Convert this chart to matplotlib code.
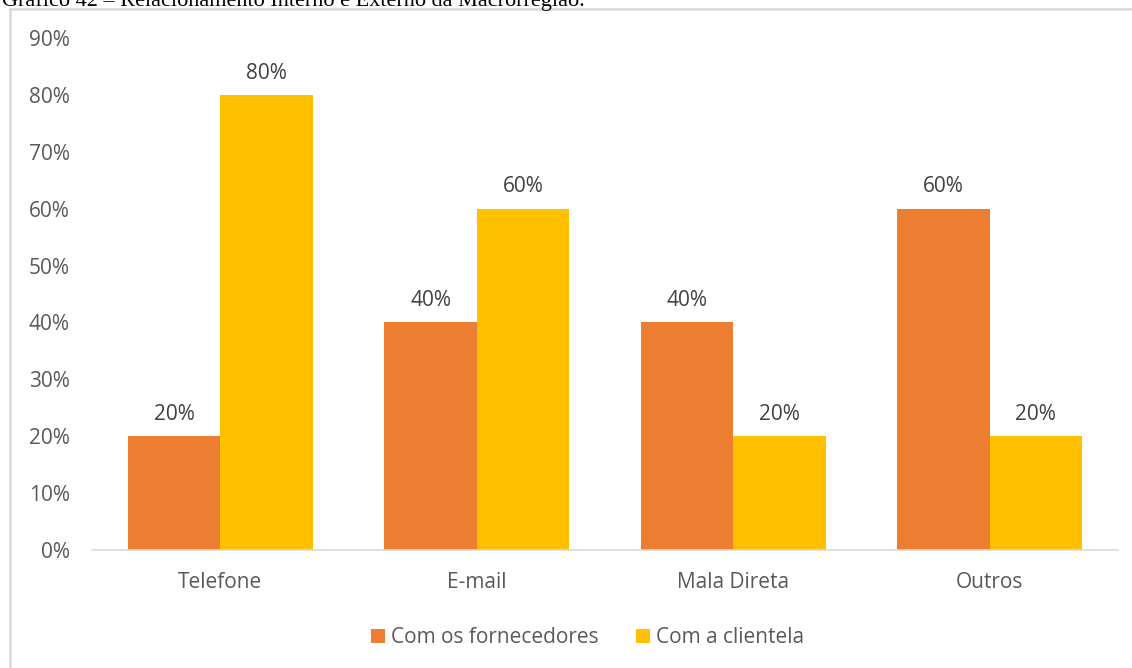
import numpy as np
import matplotlib.pyplot as plt
from matplotlib.lines import Line2D

categorias = ['Telefone', 'E-mail', 'Mala Direta', 'Outros']
fornecedores = [0.20, 0.40, 0.40, 0.60]
clientela = [0.80, 0.60, 0.20, 0.20]
series_nomes = ['Com os fornecedores', 'Com a clientela']
yticks = [0, 0.1, 0.2, 0.3, 0.4, 0.5, 0.6, 0.7, 0.8, 0.9]

laranja = '#ED7D31'
amarelo = '#FFC000'
cinza = '#595959'

plt.rcParams['font.family'] = ['Open Sans', 'DejaVu Sans']

fig = plt.figure(figsize=(11.32, 6.68), dpi=100)
W, H = 1132, 668
ax = fig.add_axes([92 / W, 118 / H, (1118 - 92) / W, (550 - 38) / H])

x = np.arange(len(categorias))
w = 0.36
b1 = ax.bar(x - w / 2, fornecedores, w, color=laranja, label=series_nomes[0])
b2 = ax.bar(x + w / 2, clientela, w, color=amarelo, label=series_nomes[1])

for barras in (b1, b2):
    for b in barras:
        v = b.get_height()
        ax.text(b.get_x() + b.get_width() / 2, v + 0.02, f'{v:.0%}',
                ha='center', va='bottom', fontsize=15, color='#404040')

ax.set_xlim(-0.5, len(categorias) - 0.5)
ax.set_ylim(0, 0.9)
ax.set_yticks(yticks)
ax.set_yticklabels([f'{t:.0%}' for t in yticks])
ax.set_xticks(x)
ax.set_xticklabels(categorias)
ax.tick_params(length=0, labelsize=15, colors=cinza)
ax.tick_params(axis='y', pad=16)
ax.tick_params(axis='x', pad=16)
for s in ['top', 'right', 'left']:
    ax.spines[s].set_visible(False)
ax.spines['bottom'].set_color('#d9d9d9')
ax.spines['bottom'].set_linewidth(1.2)

ax.legend(loc='upper center', bbox_to_anchor=(0.483, -0.114), ncol=2, frameon=False,
          fontsize=15, labelcolor=cinza, handlelength=0.65, handleheight=0.65,
          handletextpad=0.3, columnspacing=1.8)

# moldura do gráfico (recortada)
fig.add_artist(Line2D([10 / W, 10 / W], [0, 1 - 9 / H], color='#d9d9d9', lw=1.8))
fig.add_artist(Line2D([10 / W, 1], [1 - 9 / H, 1 - 9 / H], color='#d9d9d9', lw=1.8))

fig.text(2 / W, 1 - 6 / H, 'Gráfico 42 – Relacionamento Interno e Externo da Macrorregião.',
         family=['Liberation Serif'], fontsize=16, va='baseline', ha='left', color='black')

fig.savefig('out.png', dpi=100)
